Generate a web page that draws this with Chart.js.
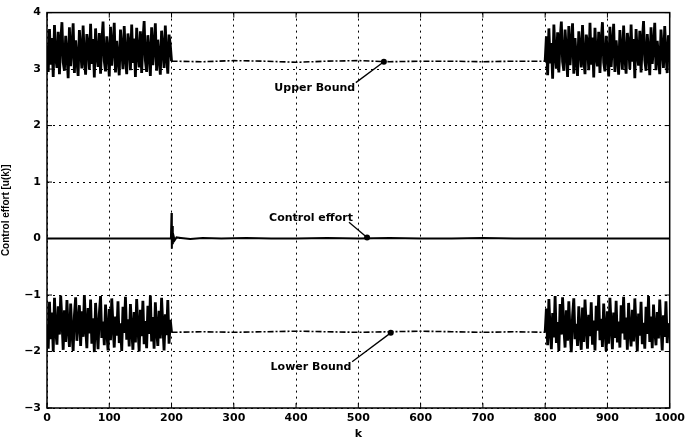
<!DOCTYPE html>
<html>
<head>
<meta charset="utf-8">
<script src="https://cdn.jsdelivr.net/npm/chart.js@4"></script>
<style>
  html, body { margin: 0; padding: 0; background: #fff; }
  #wrap { width: 689px; height: 441px; }
</style>
</head>
<body>
<div id="wrap"><canvas id="effortChart" width="689" height="441"></canvas></div>
<script>
const upperStart = [
  3.42,2.95,3.71,3.08,3.55,2.86,3.78,3.21,3.02,3.66,
  2.91,3.48,3.83,3.12,2.97,3.59,3.27,2.84,3.74,3.05,
  3.38,3.81,2.93,3.51,3.16,2.88,3.69,3.33,3.01,3.77,
  3.19,2.90,3.62,3.44,2.99,3.80,3.09,3.53,2.85,3.72,
  3.25,3.04,3.64,2.92,3.47,3.84,3.14,2.96,3.58,3.31,
  2.87,3.75,3.06,3.40,3.82,2.94,3.50,3.18,2.89,3.70,
  3.35,3.00,3.76,3.22,2.91,3.63,3.45,2.98,3.79,3.11,
  3.54,2.86,3.73,3.28,3.03,3.67,2.93,3.49,3.85,3.15,
  2.95,3.60,3.30,2.88,3.74,3.07,3.41,3.81,2.97,3.52,
  3.20,2.90,3.68,3.36,3.02,3.77,3.24,2.92,3.61,3.43,
  3.14
];
const upperMid = [3.14,3.13,3.15,3.14,3.12,3.14,3.15,3.13,3.14,3.14,3.13,3.14,3.14]; // k = 200..800 step 50
const upperEnd = [
  3.14,3.58,2.89,3.72,3.10,3.46,2.83,3.79,3.26,3.01,
  3.65,2.94,3.52,3.84,3.13,2.97,3.70,3.34,2.86,3.76,
  3.07,3.43,3.81,2.92,3.55,3.19,2.88,3.67,3.37,3.03,
  3.78,3.17,2.91,3.61,3.47,2.98,3.82,3.08,3.56,2.85,
  3.73,3.23,3.05,3.66,2.93,3.49,3.83,3.12,2.96,3.59,
  3.29,2.87,3.75,3.04,3.42,3.80,2.95,3.51,3.21,2.90,
  3.69,3.32,2.99,3.77,3.20,2.92,3.64,3.44,3.00,3.79,
  3.13,3.53,2.84,3.71,3.27,3.06,3.68,2.94,3.48,3.85,
  3.16,2.97,3.62,3.31,2.89,3.74,3.09,3.39,3.82,2.98,
  3.50,3.22,2.91,3.70,3.35,3.02,3.76,3.25,2.93,3.60,
  3.40
];
const lowerStart = [
  -1.52,-1.95,-1.12,-1.78,-1.31,-2.00,-1.05,-1.63,-1.88,-1.20,
  -1.70,-1.01,-1.45,-1.97,-1.27,-1.83,-1.09,-1.58,-1.92,-1.15,
  -1.66,-1.99,-1.36,-1.04,-1.81,-1.49,-1.18,-1.90,-1.29,-1.74,
  -1.00,-1.55,-1.94,-1.23,-1.68,-1.08,-1.86,-1.41,-2.01,-1.14,
  -1.60,-1.96,-1.33,-1.02,-1.76,-1.47,-1.89,-1.17,-1.64,-1.98,
  -1.25,-1.80,-1.06,-1.54,-1.93,-1.38,-1.72,-1.11,-1.85,-1.50,
  -1.99,-1.21,-1.67,-1.03,-1.79,-1.43,-1.91,-1.16,-1.61,-1.97,
  -1.30,-1.84,-1.07,-1.57,-2.00,-1.26,-1.73,-1.10,-1.87,-1.46,
  -1.94,-1.19,-1.69,-1.01,-1.82,-1.39,-1.95,-1.13,-1.62,-1.90,
  -1.28,-1.77,-1.05,-1.53,-1.98,-1.34,-1.71,-1.09,-1.86,-1.44,
  -1.66
];
const lowerMid = [-1.66,-1.65,-1.66,-1.65,-1.64,-1.65,-1.66,-1.65,-1.64,-1.65,-1.66,-1.65,-1.66];
const lowerEnd = [
  -1.66,-1.24,-1.89,-1.07,-1.61,-1.96,-1.32,-1.75,-1.02,-1.85,
  -1.48,-1.99,-1.16,-1.70,-1.04,-1.58,-1.93,-1.27,-1.81,-1.11,
  -1.65,-2.01,-1.37,-1.06,-1.78,-1.51,-1.90,-1.20,-1.67,-1.97,
  -1.22,-1.83,-1.08,-1.56,-1.95,-1.35,-1.73,-1.13,-1.88,-1.45,
  -1.98,-1.19,-1.63,-1.00,-1.80,-1.42,-1.92,-1.15,-1.60,-1.99,
  -1.29,-1.86,-1.05,-1.54,-1.96,-1.31,-1.76,-1.10,-1.84,-1.47,
  -1.93,-1.18,-1.68,-1.03,-1.79,-1.40,-1.97,-1.14,-1.64,-1.91,
  -1.26,-1.82,-1.06,-1.57,-2.00,-1.33,-1.72,-1.12,-1.87,-1.49,
  -1.95,-1.21,-1.69,-1.02,-1.83,-1.38,-1.94,-1.17,-1.62,-1.89,
  -1.30,-1.77,-1.08,-1.55,-1.98,-1.36,-1.74,-1.11,-1.85,-1.50,
  -1.70
];
const ctrlK = [0,199,200,200.5,201,202,203,205,208,215,230,250,280,320,360,400,450,500,550,600,650,700,750,800,850,900,950,1000];
const ctrlU = [0,0,0.45,-0.18,0.22,-0.10,0.06,-0.03,0.02,0.01,-0.01,0.01,0,0.01,0,0,0.01,0,0.01,0,0,0.01,0,0,0,0,0,0];

// callouts: [text, textK, textY, fromK, fromY, toK, toY]
const notes = [
  ['Upper Bound', 430, 2.66, 496, 2.76, 541, 3.13],
  ['Control effort', 424, 0.36, 485, 0.29, 514, 0.02],
  ['Lower Bound', 424, -2.27, 490, -2.18, 552, -1.67]
];

function joinParts(a, mid, b) {
  return [
    ...a.map((v, i) => ({ x: i * 2, y: v })),
    ...mid.map((v, i) => ({ x: 200 + i * 50, y: v })),
    ...b.map((v, i) => ({ x: 800 + i * 2, y: v }))
  ];
}

const flatPart = (c, inside, outside) =>
  (c.p0.parsed.x >= 200 && c.p1.parsed.x <= 800) ? inside : outside;

const tickFont = { family: 'DejaVu Sans', size: 11, weight: 'bold' };

const boxPlugin = {
  id: 'box',
  afterDraw(chart) {
    const { ctx, chartArea: a, scales } = chart;
    ctx.save();
    ctx.strokeStyle = '#000';
    ctx.lineWidth = 1.5;
    ctx.strokeRect(a.left, a.top, a.right - a.left, a.bottom - a.top);
    // inward tick marks
    ctx.lineWidth = 1;
    ctx.beginPath();
    scales.x.ticks.forEach(t => {
      const px = scales.x.getPixelForValue(t.value);
      ctx.moveTo(px, a.bottom); ctx.lineTo(px, a.bottom - 5);
      ctx.moveTo(px, a.top); ctx.lineTo(px, a.top + 5);
    });
    scales.y.ticks.forEach(t => {
      const py = scales.y.getPixelForValue(t.value);
      ctx.moveTo(a.left, py); ctx.lineTo(a.left + 5, py);
      ctx.moveTo(a.right, py); ctx.lineTo(a.right - 5, py);
    });
    ctx.stroke();
    // callouts
    ctx.font = 'bold 11px "DejaVu Sans"';
    ctx.fillStyle = '#000';
    ctx.textAlign = 'center';
    ctx.textBaseline = 'middle';
    notes.forEach(n => {
      const tx = scales.x.getPixelForValue(n[1]), ty = scales.y.getPixelForValue(n[2]);
      const x0 = scales.x.getPixelForValue(n[3]), y0 = scales.y.getPixelForValue(n[4]);
      const x1 = scales.x.getPixelForValue(n[5]), y1 = scales.y.getPixelForValue(n[6]);
      ctx.fillText(n[0], tx, ty);
      ctx.lineWidth = 1.3;
      ctx.beginPath(); ctx.moveTo(x0, y0); ctx.lineTo(x1, y1); ctx.stroke();
      ctx.beginPath(); ctx.arc(x1, y1, 3, 0, Math.PI * 2); ctx.fill();
    });
    ctx.restore();
  }
};

new Chart(document.getElementById('effortChart'), {
  type: 'line',
  data: {
    datasets: [
      {
        label: 'Upper Bound',
        data: joinParts(upperStart, upperMid, upperEnd),
        borderColor: '#000',
        borderWidth: 2.8,
        segment: {
          borderDash: c => flatPart(c, [6, 2, 2, 2], undefined),
          borderWidth: c => flatPart(c, 1.6, 2.8)
        }
      },
      {
        label: 'Lower Bound',
        data: joinParts(lowerStart, lowerMid, lowerEnd),
        borderColor: '#000',
        borderWidth: 2.8,
        segment: {
          borderDash: c => flatPart(c, [6, 2, 2, 2], undefined),
          borderWidth: c => flatPart(c, 1.6, 2.8)
        }
      },
      {
        label: 'Control effort',
        data: ctrlK.map((k, i) => ({ x: k, y: ctrlU[i] })),
        borderColor: '#000',
        borderWidth: 2
      }
    ]
  },
  options: {
    responsive: false,
    animation: false,
    layout: { padding: { top: 12, right: 17, left: 0, bottom: 0 } },
    elements: { point: { radius: 0 }, line: { tension: 0 } },
    scales: {
      x: {
        type: 'linear',
        min: 0, max: 1000,
        afterFit: s => { s.height = 33; },
        ticks: { stepSize: 100, color: '#000', font: tickFont, padding: 4, maxRotation: 0, callback: v => String(v) },
        grid: { color: '#000', lineWidth: 1, drawTicks: false, borderDash: [2, 4] },
        border: { display: false, dash: [2, 4] },
        title: { display: true, text: 'k', color: '#000', font: tickFont, padding: { top: 0, bottom: 0 } }
      },
      y: {
        min: -3, max: 4,
        afterFit: s => { s.width = 47; },
        ticks: {
          stepSize: 1, color: '#000', font: tickFont, padding: 6,
          callback: v => String(v).replace('-', '\u2212')
        },
        grid: { color: '#000', lineWidth: 1, drawTicks: false, borderDash: [2, 4] },
        border: { display: false, dash: [2, 4] },
        title: {
          display: true, text: 'Control effort [u(k)]', color: '#000',
          font: { family: 'Liberation Sans', size: 10, weight: 'bold' },
          padding: { top: 0, bottom: 0 }
        }
      }
    },
    plugins: {
      legend: { display: false },
      tooltip: { enabled: false }
    }
  },
  plugins: [boxPlugin]
});
</script>
</body>
</html>
